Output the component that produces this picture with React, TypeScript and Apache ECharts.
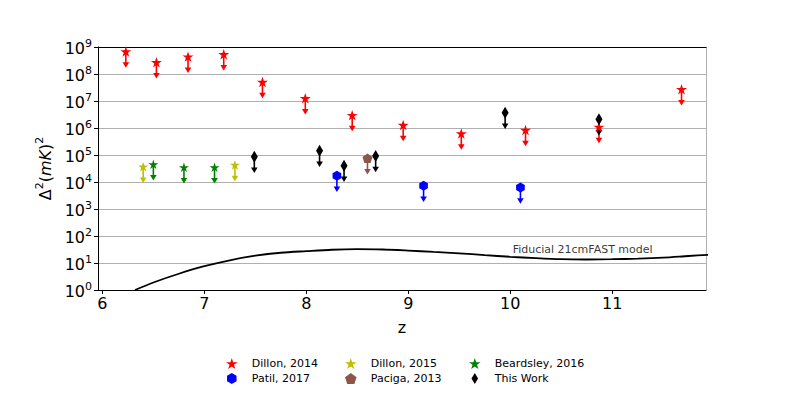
import React, { useEffect, useRef } from "react";
import * as echarts from "echarts";

// ---- Data ----
const dillon2014Z = [6.23, 6.53, 6.84, 7.19, 7.57, 7.99, 8.45, 8.95, 9.52, 10.15, 10.87, 11.68];
const dillon2014Val = [6.8e8, 2.7e8, 4.4e8, 5.4e8, 5.1e7, 1.26e7, 3.0e6, 1.3e6, 6.3e5, 8.5e5, 1.1e6, 2.7e7];

const dillon2015Z = [6.4, 7.3];
const dillon2015Val = [3.7e4, 4.3e4];

const beardsleyZ = [6.5, 6.8, 7.1];
const beardsleyVal = [4.5e4, 3.5e4, 3.5e4];

const patilZ = [8.3, 9.15, 10.1];
const patilVal = [1.7e4, 7.2e3, 6.3e3];

const pacigaZ = [8.6];
const pacigaVal = [7.6e4];

const thisWorkZ = [7.49, 8.13, 8.37, 8.68, 9.95, 10.87];
const thisWorkVal = [8.7e4, 1.45e5, 4.0e4, 9.1e4, 3.7e6, 2.1e6];

const modelZ = [6.32, 6.5, 6.75, 7.0, 7.25, 7.5, 7.75, 8.0, 8.25, 8.5, 8.75, 9.0, 9.25, 9.5, 9.75, 10.0, 10.25, 10.5, 10.75, 11.0, 11.25, 11.5, 11.75, 11.95];
const modelVal = [1.0, 1.9, 4.0, 7.6, 12.6, 18.6, 24, 27.5, 31, 32.4, 31.6, 28.8, 25.7, 22.9, 19.5, 17, 15.1, 13.8, 13.5, 13.8, 14.5, 15.8, 18.2, 20.2];

const modelLabel = "Fiducial 21cmFAST model";
const modelLabelPos = [10.71, 33];

const xTicks = [6, 7, 8, 9, 10, 11];
const upperLimitFactor = 0.25;

const FONT = "DejaVu Sans";

function polyPath(n: number, rOuter: number, rInner?: number) {
  const pts: string[] = [];
  const count = rInner !== undefined ? n * 2 : n;
  for (let i = 0; i < count; i++) {
    const r = rInner !== undefined && i % 2 === 1 ? rInner : rOuter;
    const a = -Math.PI / 2 + (i * 2 * Math.PI) / count;
    pts.push(`${(50 + r * Math.cos(a)).toFixed(2)},${(50 + r * Math.sin(a)).toFixed(2)}`);
  }
  return "path://M" + pts.join("L") + "Z";
}
const STAR = polyPath(5, 50, 19.1);
const HEX = polyPath(6, 50);
const PENT = polyPath(5, 50);
const THIN_DIAMOND = "path://M0,50L30,0L60,50L30,100Z";

const pairs = (xs: number[], ys: number[]) => xs.map((x, i) => [x, ys[i]]);

function arrowSeries(name: string, color: string, data: number[][]) {
  return {
    name: "arrow-" + name,
    type: "custom",
    silent: true,
    z: 2,
    data,
    renderItem: (_p: any, api: any) => {
      const z = api.value(0);
      const v = api.value(1);
      const p0 = api.coord([z, v]);
      const p1 = api.coord([z, v * upperLimitFactor]);
      const hw = 3.3;
      const hh = 5.5;
      return {
        type: "group",
        children: [
          {
            type: "line",
            shape: { x1: p0[0], y1: p0[1], x2: p1[0], y2: p1[1] - hh + 1 },
            style: { stroke: color, lineWidth: 1.6 },
          },
          {
            type: "polygon",
            shape: {
              points: [
                [p1[0] - hw, p1[1] - hh],
                [p1[0] + hw, p1[1] - hh],
                [p1[0], p1[1]],
              ],
            },
            style: { fill: color },
          },
        ],
      };
    },
  };
}

function markerSeries(name: string, color: string, data: number[][], symbol: string, size: any, keep = true) {
  return {
    name,
    type: "scatter",
    z: 3,
    data,
    symbol,
    symbolSize: size,
    symbolKeepAspect: keep,
    itemStyle: { color, opacity: 1 },
  };
}

export default function App() {
  const ref = useRef<HTMLDivElement>(null);
  useEffect(() => {
    if (!ref.current) return;
    document.body.style.margin = "0";
    const chart = echarts.init(ref.current, undefined, { renderer: "svg" });
    const sets = [
      { name: "Dillon, 2014", color: "#ff0000", z: dillon2014Z, v: dillon2014Val, symbol: STAR, size: 11 },
      { name: "Dillon, 2015", color: "#bfbf00", z: dillon2015Z, v: dillon2015Val, symbol: STAR, size: 10 },
      { name: "Beardsley, 2016", color: "#008000", z: beardsleyZ, v: beardsleyVal, symbol: STAR, size: 10 },
      { name: "Patil, 2017", color: "#0000ff", z: patilZ, v: patilVal, symbol: HEX, size: 10 },
      { name: "Paciga, 2013", color: "#8c564b", z: pacigaZ, v: pacigaVal, symbol: PENT, size: 10 },
      { name: "This Work", color: "#000000", z: thisWorkZ, v: thisWorkVal, symbol: THIN_DIAMOND, size: [7, 12] },
    ];
    const series: any[] = [];
    sets.forEach((s) => series.push(arrowSeries(s.name, s.color, pairs(s.z, s.v))));
    sets.forEach((s) => series.push(markerSeries(s.name, s.color, pairs(s.z, s.v), s.symbol, s.size, !Array.isArray(s.size))));
    series.push({
      name: "model",
      type: "line",
      data: pairs(modelZ, modelVal),
      showSymbol: false,
      smooth: 0.3,
      clip: true,
      lineStyle: { color: "#000", width: 1.8 },
      itemStyle: { color: "#000" },
      z: 1,
      silent: true,
    });
    series.push({
      name: "model-label",
      type: "scatter",
      data: [modelLabelPos],
      symbolSize: 1,
      itemStyle: { color: "transparent" },
      silent: true,
      label: {
        show: true,
        position: "inside",
        formatter: modelLabel,
        fontSize: 11,
        fontFamily: FONT,
        color: "#000",
      },
    });

    const legendCommon = {
      orient: "vertical",
      top: 358,
      itemWidth: 30,
      itemHeight: 11,
      itemGap: 4,
      padding: 0,
      textStyle: { fontSize: 11, fontFamily: FONT, color: "#000" },
    };

    chart.setOption({
      animation: false,
      textStyle: { fontFamily: FONT },
      grid: { left: 98, right: 83, top: 47, bottom: 105, containLabel: false },
      xAxis: [
        {
          type: "value",
          min: 5.957,
          max: 11.92,
          name: "z",
          nameLocation: "middle",
          nameGap: 29,
          nameTextStyle: { fontSize: 16, color: "#000", fontFamily: FONT },
          axisLine: { show: true, lineStyle: { color: "#000", width: 1 } },
          axisTick: { show: true, customValues: xTicks, length: 4, lineStyle: { color: "#000" } },
          axisLabel: { customValues: xTicks, fontSize: 16, color: "#000", margin: 5, fontFamily: FONT },
          splitLine: { show: false },
        },
        {
          type: "value",
          position: "top",
          min: 5.957,
          max: 11.92,
          axisLine: { show: true, lineStyle: { color: "#000", width: 1 } },
          axisTick: { show: false },
          axisLabel: { show: false },
          splitLine: { show: false },
        },
      ],
      yAxis: [
        {
          type: "log",
          logBase: 10,
          min: 1,
          max: 1e9,
          splitNumber: 9,
          name: "{n|Δ}{s|2}{n|(}{i|mK}{n|)}{s|2}",
          nameLocation: "middle",
          nameGap: 44,
          nameTextStyle: {
            color: "#000",
            rich: {
              n: { fontSize: 16, fontFamily: FONT, color: "#000", lineHeight: 20, verticalAlign: "bottom" },
              i: { fontSize: 16, fontFamily: FONT, fontStyle: "italic", color: "#000", lineHeight: 20, verticalAlign: "bottom" },
              s: { fontSize: 11, fontFamily: FONT, color: "#000", lineHeight: 12, verticalAlign: "top" },
            },
          },
          axisLine: { show: true, lineStyle: { color: "#000", width: 1 } },
          axisTick: { show: true, length: 4, lineStyle: { color: "#000" } },
          axisLabel: {
            margin: 6,
            formatter: (v: number) => `{b|10}{s|${Math.round(Math.log10(v))}}`,
            rich: {
              b: { fontSize: 16, fontFamily: FONT, color: "#000", lineHeight: 18, verticalAlign: "bottom" },
              s: { fontSize: 11, fontFamily: FONT, color: "#000", lineHeight: 12, verticalAlign: "top" },
            },
          },
          splitLine: { show: true, lineStyle: { color: "#b0b0b0", width: 1 } },
        },
        {
          type: "log",
          logBase: 10,
          min: 1,
          max: 1e9,
          position: "right",
          axisLine: { show: true, lineStyle: { color: "#b0b0b0", width: 1 } },
          axisTick: { show: false },
          axisLabel: { show: false },
          splitLine: { show: false },
        },
      ],
      legend: [
        { ...legendCommon, left: 226, data: [{ name: "Dillon, 2014", icon: STAR }, { name: "Patil, 2017", icon: HEX }] },
        { ...legendCommon, left: 345, data: [{ name: "Dillon, 2015", icon: STAR }, { name: "Paciga, 2013", icon: PENT }] },
        { ...legendCommon, left: 469, data: [{ name: "Beardsley, 2016", icon: STAR }, { name: "This Work", icon: THIN_DIAMOND }] },
      ],
      series,
    });
    return () => chart.dispose();
  }, []);
  return <div ref={ref} style={{ width: 789, height: 395 }} />;
}
